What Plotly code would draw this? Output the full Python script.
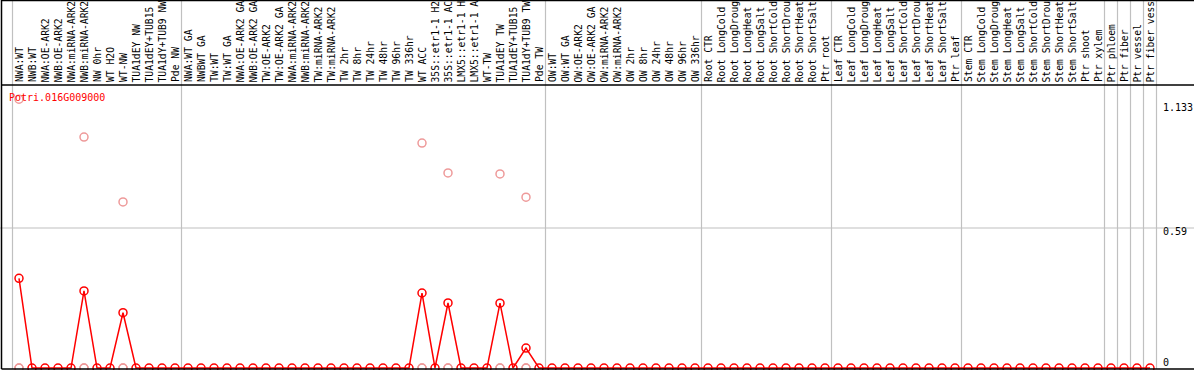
import plotly.graph_objects as go

# ---------------- data ----------------
samples = [
    "NWA:WT", "NWB:WT", "NWA:OE-ARK2", "NWB:OE-ARK2", "NWA:miRNA-ARK2", "NWB:miRNA-ARK2",
    "NW 0hr", "WT H2O", "WT-NW", "TUA1dEY NW", "TUA1dEY+TUB15", "TUA1dY+TUB9 NW", "Pde NW",
    "NWA:WT GA", "NWBWT GA", "TW:WT", "TW:WT GA", "NWA:OE-ARK2 GA", "NWB:OE-ARK2 GA",
    "TW:OE-ARK2", "TW:OE-ARK2 GA", "NWA:miRNA-ARK2", "NWB:miRNA-ARK2", "TW:miRNA-ARK2",
    "TW:miRNA-ARK2", "TW 2hr", "TW 8hr", "TW 24hr", "TW 48hr", "TW 96hr", "TW 336hr",
    "WT ACC", "35S::etr1-1 H2", "35S::etr1-1 AC", "LMX5::etr1-1 H", "LMX5::etr1-1 A",
    "WT-TW", "TUA1dEY TW", "TUA1dEY+TUB15", "TUA1dY+TUB9 TW", "Pde TW",
    "OW:WT", "OW:WT GA", "OW:OE-ARK2", "OW:OE-ARK2 GA", "OW:miRNA-ARK2", "OW:miRNA-ARK2",
    "OW 2hr", "OW 8hr", "OW 24hr", "OW 48hr", "OW 96hr", "OW 336hr",
    "Root CTR", "Root LongCold", "Root LongDroug", "Root LongHeat", "Root LongSalt",
    "Root ShortCold", "Root ShortDrou", "Root ShortHeat", "Root ShortSalt", "Ptr root",
    "Leaf CTR", "Leaf LongCold", "Leaf LongDroug", "Leaf LongHeat", "Leaf LongSalt",
    "Leaf ShortCold", "Leaf ShortDrou", "Leaf ShortHeat", "Leaf ShortSalt", "Ptr leaf",
    "Stem CTR", "Stem LongCold", "Stem LongDroug", "Stem LongHeat", "Stem LongSalt",
    "Stem ShortCold", "Stem ShortDrou", "Stem ShortHeat", "Stem ShortSalt", "Ptr shoot",
    "Ptr xylem", "Ptr phloem", "Ptr fiber", "Ptr vessel", "Ptr fiber vess",
]

# group sizes (vertical separators drawn after each group)
group_sizes = [13, 28, 12, 10, 10, 11, 1, 1, 1, 1]

# mean expression per sample (non-zero entries; others are 0)
mean_idx = [0, 5, 8, 31, 33, 37, 39]
mean_val = [0.378, 0.325, 0.233, 0.316, 0.274, 0.273, 0.084]

# replicate values (light markers)
rep_idx = [0, 0, 0, 5, 5, 5, 8, 8, 8, 31, 31, 31, 33, 33, 33, 37, 37, 37, 39, 39, 39]
rep_val = [1.133, 0, 0, 0.973, 0, 0, 0.70, 0, 0, 0.948, 0, 0, 0.822, 0, 0,
           0.818, 0, 0, 0.72, 0, 0]

gene_name = "Potri.016G009000"
y_ticks = [1.133, 0.59, 0]
y_tick_labels = ["1.133", "0.59", "0"]
grid_values = [0.59]

# ---------------- figure ----------------
n = len(samples)
xs = list(range(n))
means = [0.0] * n
for i, v in zip(mean_idx, mean_val):
    means[i] = v

W, H = 1194, 370
x0_px, step_px = 19.0, 13.0
xr = [-x0_px / step_px, (W - x0_px) / step_px]

plot_top_px, plot_bot_px = 85.0, 369.0
zero_px = 368.0
px_per_unit = 237.3
dom = [(H - plot_bot_px) / H, (H - plot_top_px) / H]
yr = [-(plot_bot_px - zero_px) / px_per_unit,
      (zero_px - plot_top_px) / px_per_unit]

fig = go.Figure()
fig.add_trace(go.Scatter(
    x=rep_idx, y=rep_val, mode="markers",
    marker=dict(symbol="circle-open", size=8, color="#EE9A9A", line=dict(width=1.5)),
    cliponaxis=False, hoverinfo="skip", showlegend=False,
))
fig.add_trace(go.Scatter(
    x=xs, y=means, mode="lines+markers",
    line=dict(color="#FF0000", width=1.5),
    marker=dict(symbol="circle-open", size=8, color="#FF0000", line=dict(width=1.5)),
    cliponaxis=False, showlegend=False,
))

shapes = []
# vertical group separators (full height)
bounds = [-0.5]
acc = 0
for g in group_sizes:
    acc += g
    bounds.append(acc - 0.5)
for b in bounds:
    shapes.append(dict(type="line", xref="x", yref="paper", x0=b, x1=b,
                       y0=dom[0], y1=1, line=dict(color="#C0C0C0", width=1.2),
                       layer="below"))
# horizontal grid
for gv in grid_values:
    shapes.append(dict(type="line", xref="paper", yref="y", x0=0, x1=1, y0=gv, y1=gv,
                       line=dict(color="#C0C0C0", width=1.2), layer="below"))
# black frame lines
lx = 1.5 / W
shapes += [
    dict(type="line", xref="paper", yref="paper", x0=lx, x1=lx, y0=dom[0], y1=1,
         line=dict(color="black", width=1.5)),
    dict(type="line", xref="paper", yref="paper", x0=lx, x1=1, y0=1 - 0.5 / H, y1=1 - 0.5 / H,
         line=dict(color="black", width=1.5)),
    dict(type="line", xref="paper", yref="paper", x0=lx, x1=1, y0=dom[1], y1=dom[1],
         line=dict(color="black", width=1.5)),
    dict(type="line", xref="paper", yref="paper", x0=lx, x1=1, y0=dom[0], y1=dom[0],
         line=dict(color="black", width=1.5)),
]

mono = "DejaVu Sans Mono"
annotations = []
label_base = (H - 83.5) / H
for i, s in enumerate(samples):
    annotations.append(dict(
        x=i, y=label_base, xref="x", yref="paper", text=s, showarrow=False,
        textangle=-90, xanchor="center", yanchor="bottom",
        font=dict(family=mono, size=9.7, color="black"), borderpad=0,
    ))

# gene title
annotations.append(dict(
    x=8.0 / W, y=(H - 97.0) / H, xref="paper", yref="paper", text=gene_name,
    showarrow=False, xanchor="left", yanchor="middle",
    font=dict(family=mono, size=10, color="#FF0000"), borderpad=0,
))

# y tick labels on the right (vertical pixel shift of each label)
tick_shift = [-8, -4, 6]
for v, t, sh in zip(y_ticks, y_tick_labels, tick_shift):
    annotations.append(dict(
        x=1162.0 / W, y=v, xref="paper", yref="y", text=t, showarrow=False,
        xanchor="left", yanchor="middle", yshift=sh,
        font=dict(family=mono, size=10, color="black"), borderpad=0,
    ))

fig.update_layout(
    width=W, height=H,
    margin=dict(l=0, r=0, t=0, b=0),
    paper_bgcolor="white", plot_bgcolor="white",
    xaxis=dict(range=xr, showgrid=False, zeroline=False, showticklabels=False,
               showline=False, ticks="", fixedrange=True),
    yaxis=dict(range=yr, domain=dom, showgrid=False, zeroline=False,
               showticklabels=False, showline=False, ticks="", fixedrange=True),
    shapes=shapes, annotations=annotations,
)

fig.write_html(
    "out.html",
    config={"displayModeBar": False},
    post_script="document.body.style.margin='0';document.body.style.overflow='hidden';",
)
